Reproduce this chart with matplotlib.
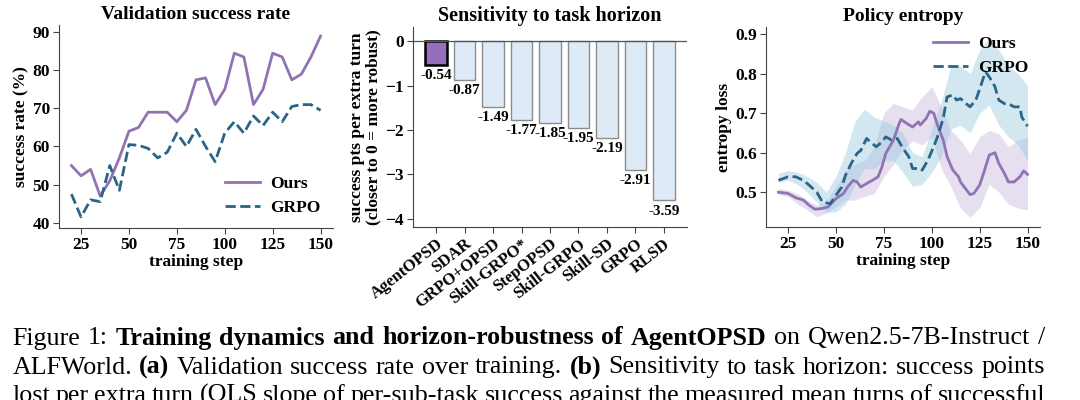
import numpy as np
import matplotlib
matplotlib.use("Agg")
import matplotlib.pyplot as plt

# ---- data ----
steps = np.arange(20, 151, 5)
ours_sr = [55, 52.3, 54, 47, 51, 57, 64, 65, 69, 69, 69, 66.5, 69.5, 77.5, 78,
           71, 75, 84.5, 83.5, 71, 75, 84.5, 83.5, 77.5, 79, 83.5, 89]
grpo_sr = [47.5, 41.5, 46, 45.5, 55, 48.5, 60.5, 60.3, 59.5, 57, 58.5, 63.5, 60,
           64.5, 60, 56, 63.5, 66.5, 63.5, 68, 65.5, 69, 66.5, 70.5, 71, 71, 69.5]

methods = ["AgentOPSD", "SDAR", "GRPO+OPSD", "Skill-GRPO*", "StepOPSD",
           "Skill-GRPO", "Skill-SD", "GRPO", "RLSD"]
slopes = [-0.54, -0.87, -1.49, -1.77, -1.85, -1.95, -2.19, -2.91, -3.59]

ours_ent_steps = [20, 25, 29, 33, 36, 39, 43, 46, 50, 54, 56, 59, 61, 63, 66, 69,
                  72, 74, 76, 80, 83, 84, 87, 90, 93, 94, 97, 99, 101, 103, 106,
                  108, 111, 114, 115, 117, 120, 122, 125, 127, 130, 133, 135, 138,
                  140, 143, 146, 148, 150]
ours_ent = [0.500, 0.497, 0.486, 0.480, 0.467, 0.457, 0.459, 0.463, 0.484, 0.497,
            0.513, 0.530, 0.526, 0.513, 0.522, 0.530, 0.539, 0.564, 0.598, 0.632,
            0.674, 0.684, 0.674, 0.665, 0.678, 0.670, 0.686, 0.705, 0.700, 0.670,
            0.632, 0.590, 0.556, 0.539, 0.526, 0.513, 0.494, 0.497, 0.518, 0.547,
            0.594, 0.600, 0.573, 0.547, 0.526, 0.526, 0.539, 0.554, 0.545]
grpo_ent_steps = [20, 25, 29, 33, 36, 40, 43, 47, 50, 53, 55, 58, 61, 63, 66, 68,
                  71, 74, 76, 79, 82, 85, 88, 90, 94, 95, 98, 101, 103, 106, 108,
                  111, 113, 115, 118, 120, 123, 126, 128, 130, 133, 135, 138, 140,
                  143, 146, 147, 150]
grpo_ent = [0.530, 0.539, 0.539, 0.530, 0.518, 0.500, 0.475, 0.471, 0.492, 0.513,
            0.543, 0.573, 0.598, 0.606, 0.636, 0.627, 0.615, 0.627, 0.640, 0.632,
            0.636, 0.611, 0.590, 0.560, 0.560, 0.556, 0.581, 0.615, 0.640, 0.687,
            0.741, 0.746, 0.733, 0.737, 0.724, 0.716, 0.733, 0.775, 0.805, 0.792,
            0.767, 0.733, 0.724, 0.724, 0.716, 0.716, 0.690, 0.667]

band_steps = np.arange(20, 151, 5)
ours_lo = [0.494, 0.489, 0.470, 0.455, 0.438, 0.447, 0.463, 0.480, 0.480, 0.490,
           0.497, 0.540, 0.570, 0.610, 0.630, 0.620, 0.640, 0.560, 0.514, 0.460,
           0.437, 0.460, 0.520, 0.500, 0.470, 0.460, 0.455]
ours_hi = [0.510, 0.505, 0.497, 0.480, 0.467, 0.480, 0.514, 0.556, 0.572, 0.580,
           0.615, 0.700, 0.725, 0.716, 0.708, 0.742, 0.767, 0.716, 0.657, 0.632,
           0.598, 0.640, 0.657, 0.648, 0.615, 0.632, 0.640]
grpo_lo = [0.525, 0.530, 0.520, 0.500, 0.475, 0.450, 0.450, 0.470, 0.520, 0.560,
           0.560, 0.580, 0.580, 0.550, 0.515, 0.520, 0.550, 0.590, 0.660, 0.670,
           0.650, 0.700, 0.720, 0.670, 0.640, 0.620, 0.580]
grpo_hi = [0.548, 0.555, 0.550, 0.540, 0.525, 0.500, 0.540, 0.600, 0.680, 0.710,
           0.690, 0.680, 0.670, 0.650, 0.600, 0.590, 0.660, 0.730, 0.820, 0.820,
           0.800, 0.860, 0.890, 0.860, 0.820, 0.800, 0.770]

caption = [
    [("Figure", 0), ("1:", 0), ("Training", 1), ("dynamics", 1), ("and", 1),
     ("horizon-robustness", 1), ("of", 1), ("AgentOPSD", 1), ("on", 0),
     ("Qwen2.5-7B-Instruct", 0), ("/", 0)],
    [("ALFWorld.", 0), ("(a)", 1), ("Validation", 0), ("success", 0), ("rate", 0),
     ("over", 0), ("training.", 0), ("(b)", 1), ("Sensitivity", 0), ("to", 0),
     ("task", 0), ("horizon:", 0), ("success", 0), ("points", 0)],
    [(w, 0) for w in "lost per extra turn (OLS slope of per-sub-task success "
     "against the measured mean turns of successful".split()],
]

# ---- style ----
PURPLE = "#9173b4"
BLUE = "#2a6487"
plt.rcParams["font.family"] = ["Liberation Serif", "DejaVu Serif"]
plt.rcParams["font.weight"] = "bold"
plt.rcParams["axes.labelweight"] = "bold"
plt.rcParams["axes.titleweight"] = "bold"
plt.rcParams["axes.edgecolor"] = "#444444"
plt.rcParams["xtick.color"] = "#444444"
plt.rcParams["ytick.color"] = "#444444"
plt.rcParams["xtick.labelcolor"] = "black"
plt.rcParams["ytick.labelcolor"] = "black"

fig = plt.figure(figsize=(10.8, 4.0), dpi=100)
W, H = 1080, 400


def add_ax(left, right, top, bottom):
    return fig.add_axes([left / W, 1 - bottom / H, (right - left) / W, (bottom - top) / H])


ax1 = add_ax(59, 333, 25, 228)
ax2 = add_ax(413, 687, 27, 227)
ax3 = add_ax(766, 1040, 27, 227)

for ax in (ax1, ax2, ax3):
    ax.spines["top"].set_visible(False)
    ax.spines["right"].set_visible(False)
    ax.tick_params(labelsize=12.5, length=4, width=0.8, pad=2.5)

# (a) validation success rate
ax1.plot(steps, ours_sr, color=PURPLE, lw=2, label="Ours")
ax1.plot(steps, grpo_sr, color=BLUE, lw=2, ls="--", label="GRPO")
ax1.set_title("Validation success rate", fontsize=14, pad=4)
ax1.set_xlabel("training step", fontsize=12.5, labelpad=1)
ax1.set_ylabel("success rate (%)", fontsize=12.5, labelpad=2)
ax1.set_xticks([25, 50, 75, 100, 125, 150])
ax1.set_yticks([40, 50, 60, 70, 80, 90])
ax1.set_xlim(13.5, 156.5)
ax1.set_ylim(38.6, 91.9)
ax1.legend(loc="lower right", frameon=False, fontsize=12.5, handlelength=2.0,
           borderaxespad=0.3, labelspacing=0.45, handletextpad=0.6)

# (b) sensitivity to horizon
x = np.arange(len(methods))
colors = ["#966ebe"] + ["#deebf7"] * (len(methods) - 1)
edges = ["black"] + ["#8c8c8c"] * (len(methods) - 1)
lws = [1.8] + [1.0] * (len(methods) - 1)
ax2.bar(x, slopes, width=0.75, color=colors, edgecolor=edges, linewidth=lws)
ax2.axhline(0, color="#555555", lw=0.9)
for xi, v in zip(x, slopes):
    ax2.annotate(f"{v:.2f}", (xi, v), xytext=(0, -3), textcoords="offset points",
                 ha="center", va="top", fontsize=11, fontweight="bold")
ax2.set_title("Sensitivity to task horizon", fontsize=14.5, pad=4)
ax2.set_ylabel("success pts per extra turn\n(closer to 0 = more robust)",
               fontsize=12.5, labelpad=3, linespacing=1.0)
ax2.set_xticks(x)
ax2.set_xticklabels(methods, rotation=38, ha="right", rotation_mode="anchor",
                    fontsize=12)
ax2.set_yticks([0, -1, -2, -3, -4])
ax2.set_xlim(-0.81, 8.81)
ax2.set_ylim(-4.19, 0.32)

# (c) policy entropy
ax3.fill_between(band_steps, ours_lo, ours_hi, color="#b8a5d6", alpha=0.35, lw=0)
ax3.fill_between(band_steps, grpo_lo, grpo_hi, color="#9ecae1", alpha=0.45, lw=0)
ax3.plot(ours_ent_steps, ours_ent, color=PURPLE, lw=2, label="Ours")
ax3.plot(grpo_ent_steps, grpo_ent, color=BLUE, lw=2, ls="--", label="GRPO")
ax3.set_title("Policy entropy", fontsize=14, pad=4)
ax3.set_xlabel("training step", fontsize=12.5, labelpad=1)
ax3.set_ylabel("entropy loss", fontsize=12.5, labelpad=2)
ax3.set_xticks([25, 50, 75, 100, 125, 150])
ax3.set_yticks([0.5, 0.6, 0.7, 0.8, 0.9])
ax3.set_xlim(13.5, 156.5)
ax3.set_ylim(0.412, 0.918)
ax3.legend(loc="upper right", frameon=False, fontsize=12.5, handlelength=2.0,
           borderaxespad=0.1, labelspacing=0.45, handletextpad=0.6,
           bbox_to_anchor=(0.99, 1.0))

# ---- caption, justified lines ----
renderer = fig.canvas.get_renderer()
x_left, x_right = 12.5 / W, 1045 / W
baselines = [1 - 344.5 / H, 1 - 373.5 / H, 1 - 402 / H]
base_size = 17.0


def measure(word, bold, size):
    t = fig.text(0, 0, word, fontsize=size, fontweight="bold" if bold else "normal",
                 family="Liberation Serif")
    w = t.get_window_extent(renderer).width / W
    t.remove()
    return w


# pick the font size that makes the first two lines fit with normal spacing
space = measure("a a", 0, base_size) - 2 * measure("a", 0, base_size)
scales = []
for line in caption[:2]:
    natural = sum(measure(w, b, base_size) for w, b in line) + space * (len(line) - 1)
    scales.append((x_right - x_left) / natural)
size = base_size * min(scales) * 0.995

for line, yb in zip(caption, baselines):
    texts = []
    for word, bold in line:
        t = fig.text(0, yb, word, fontsize=size, va="baseline", ha="left",
                     fontweight="bold" if bold else "normal",
                     family="Liberation Serif")
        texts.append(t)
    widths = [t.get_window_extent(renderer).width / W for t in texts]
    gap = (x_right - x_left - sum(widths)) / (len(texts) - 1)
    xpos = x_left
    for t, w in zip(texts, widths):
        t.set_x(xpos)
        xpos += w + gap

fig.savefig("out.png", dpi=100)
